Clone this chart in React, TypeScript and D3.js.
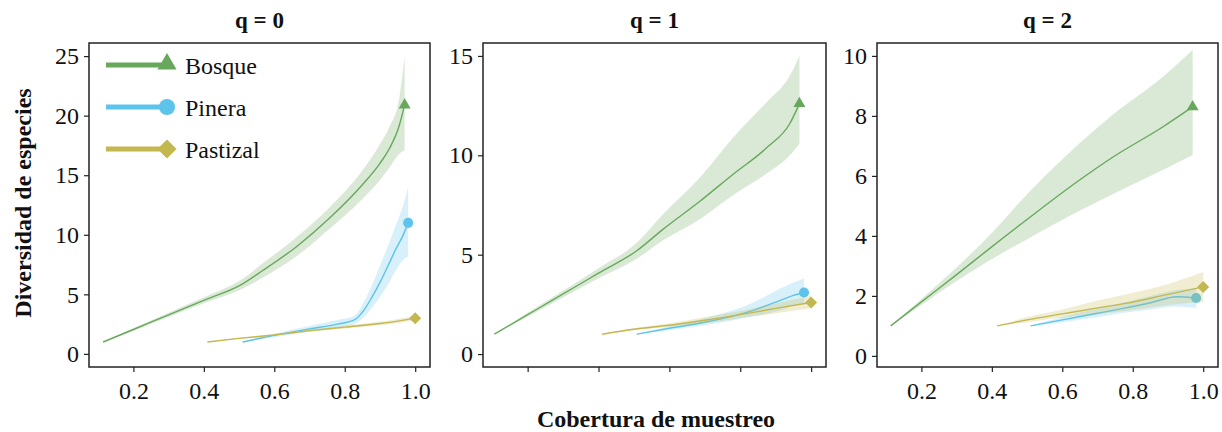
import { useEffect, useRef } from "react"
import * as d3 from "d3"

// axis ticks and labels
const xTicks = [0.2, 0.4, 0.6, 0.8, 1.0]
const panelTitles = ["q = 0", "q = 1", "q = 2"]
const yTicksQ0 = [0, 5, 10, 15, 20, 25]
const yTicksQ1 = [0, 5, 10, 15]
const yTicksQ2 = [0, 2, 4, 6, 8, 10]
const seriesNames = ["Bosque", "Pinera", "Pastizal"]

// q = 0
const bosqueQ0X = [0.114, 0.2, 0.3, 0.4, 0.505, 0.567, 0.663, 0.757, 0.85, 0.9, 0.926, 0.955, 0.97]
const bosqueQ0Y = [1.0, 2.05, 3.28, 4.5, 5.8, 7.0, 9.0, 11.4, 14.2, 16.0, 17.2, 19.2, 20.9]
const bosqueQ0Hi = [1.0, 2.15, 3.45, 4.75, 6.2, 7.6, 9.8, 12.3, 15.4, 17.6, 19.0, 21.5, 25.0]
const bosqueQ0Lo = [1.0, 1.95, 3.1, 4.25, 5.4, 6.4, 8.2, 10.5, 13.0, 14.6, 15.6, 16.8, 17.1]

const pineraQ0X = [0.51, 0.6, 0.7, 0.78, 0.827, 0.855, 0.878, 0.9, 0.926, 0.945, 0.963, 0.98]
const pineraQ0Y = [1.0, 1.55, 2.1, 2.5, 2.85, 3.7, 4.8, 6.0, 7.6, 8.8, 9.8, 11.0]
const pineraQ0Hi = [1.0, 1.7, 2.35, 2.85, 3.2, 4.4, 5.8, 7.4, 9.3, 10.8, 12.2, 14.0]
const pineraQ0Lo = [1.0, 1.4, 1.85, 2.2, 2.5, 3.1, 3.9, 4.8, 6.0, 7.0, 7.8, 8.2]

const pastizalQ0X = [0.41, 0.5, 0.6, 0.7, 0.8, 0.9, 0.95, 1.0]
const pastizalQ0Y = [1.0, 1.3, 1.6, 1.95, 2.25, 2.55, 2.75, 3.0]
const pastizalQ0Hi = [1.0, 1.35, 1.68, 2.05, 2.38, 2.7, 2.92, 3.2]
const pastizalQ0Lo = [1.0, 1.25, 1.52, 1.85, 2.12, 2.4, 2.58, 2.8]

// q = 1
const bosqueQ1X = [0.106, 0.2, 0.27, 0.4, 0.508, 0.58, 0.687, 0.78, 0.876, 0.94, 0.967]
const bosqueQ1Y = [1.0, 1.98, 2.71, 4.07, 5.2, 6.25, 7.7, 9.05, 10.4, 11.6, 12.6]
const bosqueQ1Hi = [1.0, 2.08, 2.86, 4.32, 5.6, 7.0, 8.9, 10.9, 12.7, 14.0, 15.0]
const bosqueQ1Lo = [1.0, 1.88, 2.56, 3.82, 4.8, 5.7, 6.8, 8.0, 9.1, 10.0, 10.6]

const pineraQ1X = [0.508, 0.6, 0.7, 0.837, 0.913, 0.95, 0.98]
const pineraQ1Y = [1.0, 1.3, 1.6, 2.2, 2.7, 2.95, 3.1]
const pineraQ1Hi = [1.0, 1.4, 1.8, 2.6, 3.3, 3.6, 3.8]
const pineraQ1Lo = [1.0, 1.2, 1.45, 1.9, 2.2, 2.45, 2.55]

const pastizalQ1X = [0.41, 0.5, 0.6, 0.7, 0.837, 0.9, 1.0]
const pastizalQ1Y = [1.0, 1.25, 1.45, 1.7, 2.1, 2.3, 2.6]
const pastizalQ1Hi = [1.0, 1.3, 1.55, 1.85, 2.3, 2.55, 2.95]
const pastizalQ1Lo = [1.0, 1.2, 1.38, 1.55, 1.9, 2.05, 2.3]

// q = 2
const bosqueQ2X = [0.113, 0.2, 0.3, 0.396, 0.509, 0.65, 0.744, 0.885, 0.97]
const bosqueQ2Y = [1.0, 1.8, 2.71, 3.6, 4.63, 5.87, 6.63, 7.63, 8.3]
const bosqueQ2Hi = [1.0, 1.9, 2.95, 4.05, 5.5, 7.1, 8.05, 9.3, 10.2]
const bosqueQ2Lo = [1.0, 1.7, 2.5, 3.2, 3.95, 4.85, 5.4, 6.2, 6.7]

const pineraQ2X = [0.51, 0.6, 0.7, 0.78, 0.85, 0.925, 0.98]
const pineraQ2Y = [1.0, 1.2, 1.42, 1.6, 1.77, 1.97, 1.93]
const pineraQ2Hi = [1.0, 1.3, 1.58, 1.8, 2.0, 2.2, 2.25]
const pineraQ2Lo = [1.0, 1.12, 1.3, 1.45, 1.55, 1.65, 1.6]

const pastizalQ2X = [0.415, 0.5, 0.6, 0.7, 0.78, 0.9, 1.0]
const pastizalQ2Y = [1.0, 1.2, 1.4, 1.6, 1.75, 2.05, 2.3]
const pastizalQ2Hi = [1.0, 1.3, 1.55, 1.85, 2.05, 2.4, 2.8]
const pastizalQ2Lo = [1.0, 1.12, 1.28, 1.4, 1.5, 1.7, 1.8]

const colors = ["#68a85c", "#5ec3ea", "#c3b850"]
const bandColors = ["rgba(104,168,92,0.25)", "rgba(94,195,234,0.25)", "rgba(195,184,80,0.25)"]

interface Series {
  x: number[]
  y: number[]
  lo: number[]
  hi: number[]
}

interface Panel {
  title: string
  left: number
  right: number
  yDomain: [number, number]
  yTicks: number[]
  xLabels: boolean
  series: Series[]
}

const panels: Panel[] = [
  {
    title: panelTitles[0],
    left: 89,
    right: 430,
    yDomain: [-1.1, 26.1],
    yTicks: yTicksQ0,
    xLabels: true,
    series: [
      { x: bosqueQ0X, y: bosqueQ0Y, lo: bosqueQ0Lo, hi: bosqueQ0Hi },
      { x: pineraQ0X, y: pineraQ0Y, lo: pineraQ0Lo, hi: pineraQ0Hi },
      { x: pastizalQ0X, y: pastizalQ0Y, lo: pastizalQ0Lo, hi: pastizalQ0Hi },
    ],
  },
  {
    title: panelTitles[1],
    left: 483,
    right: 826,
    yDomain: [-0.65, 15.65],
    yTicks: yTicksQ1,
    xLabels: false,
    series: [
      { x: bosqueQ1X, y: bosqueQ1Y, lo: bosqueQ1Lo, hi: bosqueQ1Hi },
      { x: pineraQ1X, y: pineraQ1Y, lo: pineraQ1Lo, hi: pineraQ1Hi },
      { x: pastizalQ1X, y: pastizalQ1Y, lo: pastizalQ1Lo, hi: pastizalQ1Hi },
    ],
  },
  {
    title: panelTitles[2],
    left: 877,
    right: 1218,
    yDomain: [-0.37, 10.43],
    yTicks: yTicksQ2,
    xLabels: true,
    series: [
      { x: bosqueQ2X, y: bosqueQ2Y, lo: bosqueQ2Lo, hi: bosqueQ2Hi },
      { x: pineraQ2X, y: pineraQ2Y, lo: pineraQ2Lo, hi: pineraQ2Hi },
      { x: pastizalQ2X, y: pastizalQ2Y, lo: pastizalQ2Lo, hi: pastizalQ2Hi },
    ],
  },
]

const FONT = "'Liberation Serif', 'Times New Roman', serif"

// marker path for series i (triangle, circle, diamond)
const markerPath = (i: number, scale: number) => {
  if (i === 0) return d3.symbol(d3.symbolTriangle, 62 * scale * scale)()
  if (i === 1) return d3.symbol(d3.symbolCircle, 80 * scale * scale)()
  return d3.symbol(d3.symbolSquare, 72 * scale * scale)()
}

const App = () => {
  const svgRef = useRef<SVGSVGElement | null>(null)

  useEffect(() => {
    if (!svgRef.current) return
    const svg = d3.select(svgRef.current)
    svg.selectAll("*").remove()

    const top = 43
    const bottom = 367

    panels.forEach((p) => {
      const x = d3.scaleLinear().domain([0.074, 1.042]).range([p.left, p.right])
      const y = d3.scaleLinear().domain(p.yDomain).range([bottom, top])
      const g = svg.append("g")

      // bands, lines, markers
      p.series.forEach((s, i) => {
        const idx = d3.range(s.x.length)
        const area = d3
          .area<number>()
          .x((k) => x(s.x[k]))
          .y0((k) => y(s.lo[k]))
          .y1((k) => y(s.hi[k]))
          .curve(d3.curveMonotoneX)
        g.append("path").attr("d", area(idx)).attr("fill", bandColors[i])

        const line = d3
          .line<number>()
          .x((k) => x(s.x[k]))
          .y((k) => y(s.y[k]))
          .curve(d3.curveMonotoneX)
        g.append("path")
          .attr("d", line(idx))
          .attr("fill", "none")
          .attr("stroke", colors[i])
          .attr("stroke-width", 1.4)

        const last = s.x.length - 1
        g.append("path")
          .attr("d", markerPath(i, 1))
          .attr(
            "transform",
            `translate(${x(s.x[last])},${y(s.y[last])})${i === 2 ? " rotate(45)" : ""}`,
          )
          .attr("fill", colors[i])
      })

      // frame
      g.append("rect")
        .attr("x", p.left)
        .attr("y", top)
        .attr("width", p.right - p.left)
        .attr("height", bottom - top)
        .attr("fill", "none")
        .attr("stroke", "#222")
        .attr("stroke-width", 1.5)

      // y axis
      const yAxis = g
        .append("g")
        .attr("transform", `translate(${p.left},0)`)
        .call(d3.axisLeft(y).tickValues(p.yTicks).tickSize(5).tickPadding(5).tickFormat(d3.format("d")))
      yAxis.select(".domain").remove()
      yAxis.selectAll("line").attr("stroke", "#222").attr("stroke-width", 1.2)
      yAxis.selectAll("text").attr("font-family", FONT).attr("font-size", 24).attr("fill", "#111")

      // x axis
      const xAxis = g
        .append("g")
        .attr("transform", `translate(0,${bottom})`)
        .call(
          d3
            .axisBottom(x)
            .tickValues(xTicks)
            .tickSize(5)
            .tickPadding(10)
            .tickFormat((d) => (p.xLabels ? d3.format(".1f")(d as number) : "")),
        )
      xAxis.select(".domain").remove()
      xAxis.selectAll("line").attr("stroke", "#222").attr("stroke-width", 1.2)
      xAxis.selectAll("text").attr("font-family", FONT).attr("font-size", 24).attr("fill", "#111")

      // title
      svg.append("text")
        .attr("x", (p.left + p.right) / 2)
        .attr("y", 28)
        .attr("text-anchor", "middle")
        .attr("font-family", FONT)
        .attr("font-weight", "bold")
        .attr("font-size", 23)
        .attr("fill", "#111")
        .text(p.title)
    })

    // legend in first panel
    const legend = svg.append("g")
    seriesNames.forEach((name, i) => {
      const ly = 65 + i * 42
      legend.append("line")
        .attr("x1", 106)
        .attr("x2", 162)
        .attr("y1", ly)
        .attr("y2", ly)
        .attr("stroke", colors[i])
        .attr("stroke-width", 5)
      legend.append("path")
        .attr("d", markerPath(i, 1.6))
        .attr("transform", `translate(167,${ly + (i === 0 ? -1 : 0)})${i === 2 ? " rotate(45)" : ""}`)
        .attr("fill", colors[i])
      legend.append("text")
        .attr("x", 185)
        .attr("y", ly + 3)
        .attr("dominant-baseline", "middle")
        .attr("font-family", FONT)
        .attr("font-size", 24)
        .attr("fill", "#111")
        .text(name)
    })

    // axis labels
    svg.append("text")
      .attr("transform", `translate(31,203) rotate(-90)`)
      .attr("text-anchor", "middle")
      .attr("font-family", FONT)
      .attr("font-weight", "bold")
      .attr("font-size", 24)
      .attr("fill", "#111")
      .text("Diversidad de especies")

    svg.append("text")
      .attr("x", 656)
      .attr("y", 427)
      .attr("text-anchor", "middle")
      .attr("font-family", FONT)
      .attr("font-weight", "bold")
      .attr("font-size", 24)
      .attr("fill", "#111")
      .text("Cobertura de muestreo")
  }, [])

  return (
    <svg
      ref={svgRef}
      width={1222}
      height={432}
      style={{ position: "absolute", left: 0, top: 0, background: "#fff" }}
    />
  )
}

export default App
